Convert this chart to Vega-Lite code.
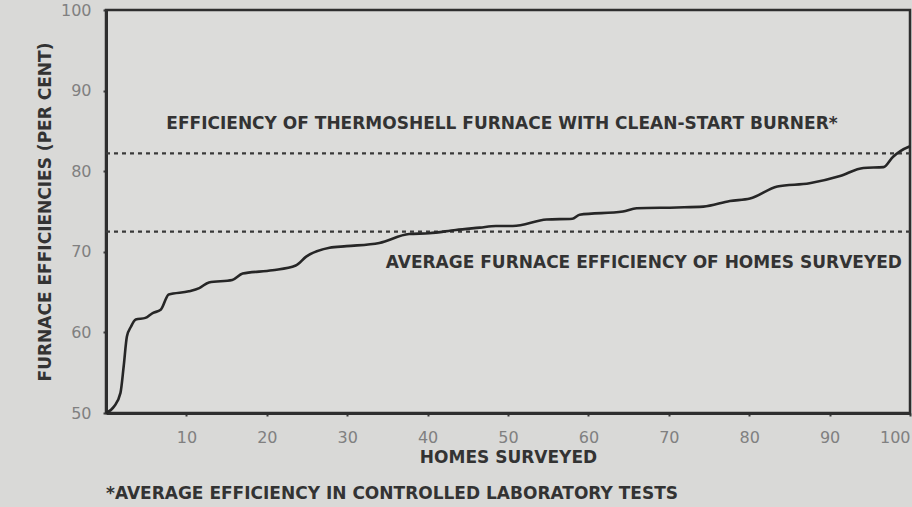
{
  "$schema": "https://vega.github.io/schema/vega-lite/v6.json",
  "width": 804,
  "height": 403,
  "autosize": {"type": "none"},
  "padding": {"left": 106, "top": 10, "right": 2, "bottom": 94},
  "background": "#d9d9d7",
  "config": {
    "view": {"stroke": "#2e2e2e", "strokeWidth": 2.5, "fill": "#dcdcda"},
    "font": "DejaVu Sans",
    "axis": {
      "domainColor": "#2e2e2e",
      "domainWidth": 3,
      "tickColor": "#3a3a3a",
      "tickWidth": 2,
      "tickSize": 3,
      "grid": false,
      "labelColor": "#808080",
      "labelFontSize": 16,
      "labelFont": "DejaVu Sans",
      "titleColor": "#333333",
      "titleFontSize": 17,
      "titleFontWeight": "bold",
      "titleFont": "DejaVu Sans"
    }
  },
  "title": {
    "text": "*AVERAGE EFFICIENCY IN CONTROLLED LABORATORY TESTS",
    "orient": "bottom",
    "anchor": "start",
    "frame": "group",
    "offset": 21,
    "fontSize": 17,
    "fontWeight": "bold",
    "color": "#333333",
    "font": "DejaVu Sans"
  },
  "datasets": {
    "curve": [
      {"home": 0, "eff": 50},
      {"home": 1, "eff": 50.8},
      {"home": 1.8, "eff": 52.5},
      {"home": 2.2, "eff": 55.8},
      {"home": 2.6, "eff": 59.5},
      {"home": 3.1, "eff": 60.7},
      {"home": 3.7, "eff": 61.6},
      {"home": 4.9, "eff": 61.8},
      {"home": 5.8, "eff": 62.4},
      {"home": 6.8, "eff": 62.8},
      {"home": 7.8, "eff": 64.7},
      {"home": 10.3, "eff": 65.1},
      {"home": 11.6, "eff": 65.5},
      {"home": 12.8, "eff": 66.2},
      {"home": 15.7, "eff": 66.5},
      {"home": 17, "eff": 67.3},
      {"home": 20.7, "eff": 67.7},
      {"home": 23.6, "eff": 68.3},
      {"home": 24.9, "eff": 69.4},
      {"home": 27.8, "eff": 70.5},
      {"home": 29.9, "eff": 70.7},
      {"home": 34, "eff": 71.1},
      {"home": 37.7, "eff": 72.2},
      {"home": 40.2, "eff": 72.3},
      {"home": 43.5, "eff": 72.7},
      {"home": 46.5, "eff": 73.0},
      {"home": 48.5, "eff": 73.2},
      {"home": 50.6, "eff": 73.2},
      {"home": 54.8, "eff": 74.0},
      {"home": 58, "eff": 74.1},
      {"home": 58.9, "eff": 74.6},
      {"home": 64.3, "eff": 75.0},
      {"home": 66, "eff": 75.4},
      {"home": 71, "eff": 75.5},
      {"home": 74.3, "eff": 75.6},
      {"home": 77.6, "eff": 76.3},
      {"home": 80.1, "eff": 76.6},
      {"home": 83.5, "eff": 78.1},
      {"home": 87.5, "eff": 78.5},
      {"home": 91.3, "eff": 79.4},
      {"home": 94.2, "eff": 80.4},
      {"home": 96.7, "eff": 80.5},
      {"home": 97.9, "eff": 81.8},
      {"home": 98.8, "eff": 82.5},
      {"home": 100, "eff": 83.1}
    ],
    "refs": [
      {"level": 82.2, "name": "thermoshell"},
      {"level": 72.5, "name": "average"}
    ],
    "labels": [
      {"home": 7.5, "eff": 85.8, "label": "EFFICIENCY OF THERMOSHELL FURNACE WITH CLEAN-START BURNER*", "side": "left"},
      {"home": 99.0, "eff": 68.6, "label": "AVERAGE FURNACE EFFICIENCY OF HOMES SURVEYED", "side": "right"}
    ]
  },
  "layer": [
    {
      "data": {"name": "refs"},
      "mark": {"type": "rule", "strokeDash": [4, 4], "strokeWidth": 2.2, "color": "#3a3a3a"},
      "encoding": {
        "y": {"field": "level", "type": "quantitative", "scale": {"domain": [50, 100], "nice": false, "zero": false}}
      }
    },
    {
      "data": {"name": "curve"},
      "mark": {"type": "line", "color": "#262626", "strokeWidth": 2.6, "interpolate": "monotone"},
      "encoding": {
        "x": {
          "field": "home", "type": "quantitative",
          "scale": {"domain": [0, 100], "nice": false, "zero": false},
          "axis": {"values": [10, 20, 30, 40, 50, 60, 70, 80, 90, 100], "title": "HOMES SURVEYED", "labelPadding": 13, "titlePadding": 4}
        },
        "y": {
          "field": "eff", "type": "quantitative",
          "scale": {"domain": [50, 100], "nice": false, "zero": false},
          "axis": {"values": [50, 60, 70, 80, 90, 100], "title": "FURNACE EFFICIENCIES (PER CENT)", "labelPadding": 12, "titlePadding": 6}
        }
      }
    },
    {
      "data": {"name": "labels"},
      "transform": [{"filter": "datum.side === 'left'"}],
      "mark": {"type": "text", "align": "left", "baseline": "middle", "fontSize": 17, "fontWeight": "bold", "color": "#333333"},
      "encoding": {
        "x": {"field": "home", "type": "quantitative"},
        "y": {"field": "eff", "type": "quantitative"},
        "text": {"field": "label"}
      }
    },
    {
      "data": {"name": "labels"},
      "transform": [{"filter": "datum.side === 'right'"}],
      "mark": {"type": "text", "align": "right", "baseline": "middle", "fontSize": 17, "fontWeight": "bold", "color": "#333333"},
      "encoding": {
        "x": {"field": "home", "type": "quantitative"},
        "y": {"field": "eff", "type": "quantitative"},
        "text": {"field": "label"}
      }
    }
  ]
}
